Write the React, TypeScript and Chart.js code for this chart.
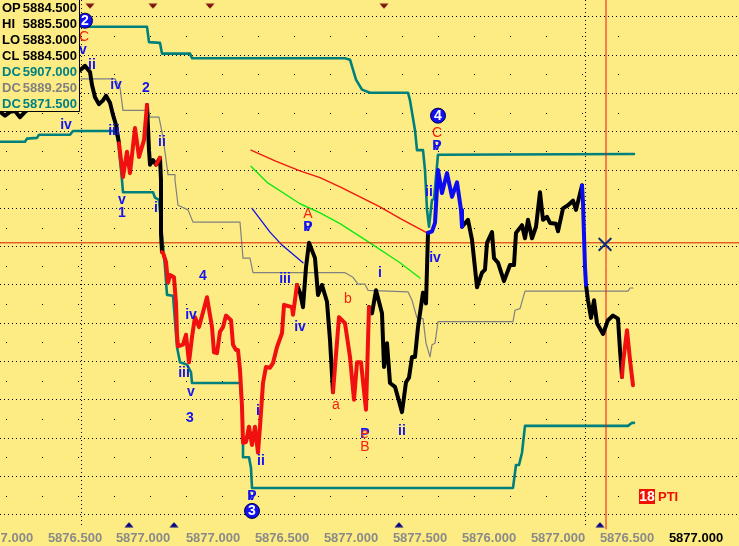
import React, { useEffect, useRef } from "react";
import { Chart, registerables } from "chart.js";

Chart.register(...registerables);

type P = [number, number];

const PRICE_MIN = 5858.14;
const PRICE_MAX = 5927.2;
const BAR_MAX = 739;

const black1: P[] = [[0,5912.6],[5,5912.1],[10,5912.6],[15,5912.7],[20,5911.9],[25,5912.6],[30,5913.1],[40,5914.1],[55,5915.5],[70,5916.1],[78,5917.8],[85,5918.6],[90,5917.8],[92,5916.1],[95,5914.5],[99,5913.6],[103,5914.1],[106,5914.7],[110,5913.8],[113,5912.2],[116,5910.9],[119,5908.5]];
const red1: P[] = [[119,5908.5],[123,5904.1],[127,5907.4],[130,5904.6],[135,5910.5],[139,5906.7],[141,5907.6],[144,5908.9],[147,5913.5]];
const black2: P[] = [[147,5913.5],[149,5907.6],[150,5905.7],[153,5906.3],[156,5905.7],[160,5906.6],[161,5903.7],[161,5896.7],[162,5894.3]];
const redMini: P[] = [[156,5905.7],[160,5906.6]];
const red2: P[] = [[162,5894.3],[163,5894.2],[166,5893.0],[168,5890.3],[170,5891.3],[174,5891.0],[176,5887.6],[177,5883.5],[178,5882.0],[183,5882.2],[186,5883.5],[189,5879.9],[192,5883.2],[195,5885.8],[199,5884.5],[207,5888.4],[212,5884.5],[214,5881.2],[217,5881.1],[220,5883.9],[223,5884.5],[226,5886.0],[231,5885.4],[233,5882.2],[236,5881.5],[238,5881.5],[240,5878.9],[242,5874.1],[243,5869.4],[246,5869.5],[249,5871.5],[252,5869.1],[255,5871.5],[258,5868.1],[260,5871.5],[263,5877.2],[266,5879.3],[270,5879.2],[273,5879.8],[277,5881.9],[282,5883.7],[284,5887.4],[292,5887.1],[293,5886.1],[297,5890.0]];
const black3: P[] = [[297,5890.0],[300,5889.0],[303,5887.1],[306,5892.3],[309,5895.5],[315,5893.5],[318,5888.7],[322,5890.0],[327,5887.8],[330,5882.8],[333,5876.0]];
const red3: P[] = [[333,5876.0],[339,5885.8],[345,5885.0],[350,5880.6],[354,5875.0],[357,5879.9],[361,5879.9],[366,5873.7],[369,5887.1]];
const black4: P[] = [[369,5887.1],[372,5886.3],[376,5889.3],[382,5886.3],[384,5879.3],[387,5882.4],[390,5877.2],[395,5876.7],[402,5873.4],[406,5877.3],[409,5877.9],[412,5880.6],[415,5880.6],[418,5884.5],[423,5889.0],[426,5887.6],[428,5896.8]];
const blue1: P[] = [[428,5896.8],[432,5897.0],[435,5898.1],[438,5905.0],[442,5902.0],[447,5904.6],[452,5901.5],[457,5903.4],[461,5899.8],[462,5897.6]];
const black5: P[] = [[462,5897.6],[468,5898.5],[472,5895.9],[477,5889.7],[482,5891.6],[485,5892.0],[487,5895.5],[492,5896.9],[494,5893.5],[498,5892.9],[504,5890.5],[510,5892.6],[514,5892.6],[516,5896.8],[522,5897.8],[525,5896.1],[528,5898.5],[532,5896.1],[536,5897.6],[540,5902.1],[543,5898.5],[547,5898.9],[550,5898.1],[556,5898.0],[558,5897.0],[563,5900.0],[568,5900.4],[573,5901.0],[576,5899.8],[582,5903.0]];
const blue2: P[] = [[582,5903.0],[583,5900.7],[584,5896.5],[585,5892.3],[586,5890.0]];
const black6: P[] = [[586,5890.0],[588,5888.0],[591,5885.7],[594,5888.0],[597,5885.0],[603,5883.6],[608,5885.4],[613,5886.0],[618,5885.6],[620,5881.5],[622,5878.0]];
const red4: P[] = [[622,5878.0],[623,5879.8],[627,5884.1],[630,5880.2],[633,5876.9]];

const channelUpper: P[] = [[81,5923.7],[147,5923.7],[149,5921.7],[160,5921.6],[162,5920.2],[190,5920.2],[192,5919.6],[345,5919.6],[350,5919.4],[356,5916.8],[362,5915.5],[370,5915.1],[408,5915.1],[410,5914.1],[415,5910.2],[417,5907.6],[423,5907.6],[425,5905.0],[427,5899.8],[429,5897.6],[432,5901.1],[434,5901.2],[438,5907.0],[634,5907.1]];
const channelLower: P[] = [[0,5908.7],[25,5908.7],[27,5909.1],[37,5909.2],[39,5909.6],[70,5909.6],[73,5910.1],[115,5910.1],[118,5908.9],[122,5903.7],[123,5902.1],[153,5902.1],[155,5901.4],[159,5901.1],[162,5896.5],[165,5892.3],[167,5888.7],[173,5888.6],[177,5881.9],[180,5879.9],[187,5879.6],[191,5878.6],[192,5877.2],[240,5877.2],[242,5874.1],[243,5869.4],[243,5867.5],[249,5867.5],[251,5866.1],[252,5863.5],[513,5863.5],[516,5866.5],[519,5866.5],[522,5868.1],[525,5871.6],[628,5871.6],[632,5872.0],[634,5872.0]];
const channelMid: P[] = [[81,5916.9],[115,5916.9],[120,5915.8],[123,5912.8],[148,5912.8],[150,5911.9],[159,5911.9],[163,5909.3],[168,5904.4],[175,5904.4],[175,5903.7],[178,5900.4],[188,5899.8],[193,5898.2],[240,5898.2],[243,5893.5],[250,5893.5],[253,5891.6],[345,5891.6],[353,5891.0],[358,5890.1],[365,5890.1],[368,5889.3],[408,5889.1],[412,5888.0],[417,5885.7],[423,5885.6],[426,5882.4],[430,5880.6],[432,5882.2],[435,5882.4],[438,5885.2],[513,5885.2],[515,5886.7],[520,5886.9],[525,5889.2],[628,5889.2],[630,5889.6],[633,5889.6]];

const thinRed: P[] = [[251,5907.6],[275,5906.2],[300,5904.9],[320,5904.0],[340,5902.8],[360,5901.5],[380,5900.2],[400,5898.7],[427,5896.8]];
const thinGreen: P[] = [[251,5905.5],[267,5903.4],[300,5900.6],[320,5899.4],[340,5898.0],[370,5895.5],[400,5892.9],[420,5890.9]];
const thinBlue: P[] = [[252,5900.0],[270,5896.9],[282,5895.2],[303,5892.9]];

const crossPrice = 5895.5;
const crossBar = 606;
const crossMark: P[] = [[605,5895.3]];
const topMarks: P[] = [[90,5926.4],[153,5926.4],[210,5926.4],[384,5926.4]];
const bottomMarks: P[] = [[129,5858.7],[174,5858.7],[399,5858.7],[600,5858.7]];

const tickBars = [6, 75, 143, 213, 282, 351, 420, 489, 558, 627, 696];
const tickLabels = ["5877.000","5876.500","5877.000","5877.000","5876.500","5877.000","5877.500","5876.000","5877.000","5876.500","5877.000"];
const gridPrices = [5860,5865,5870,5875,5880,5885,5890,5895,5900,5905,5910,5915,5920,5925];
const minorPrices = [5862.5,5867.5,5872.5,5877.5,5882.5,5887.5,5892.5,5897.5,5902.5,5907.5,5912.5,5917.5,5922.5];
const minorBars = [6,42,78,114,150,186,222,258,294,330,366,402,438,474,510,546,582,618];
const verticalBars = [81, 585];

const BLUE = "#1414f0";
const RED = "#f82010";
const blueLabels: [string, number, number][] = [["ii",92,5918.7],["iv",116,5916.1],["2",146,5915.7],["iv",66,5910.9],["iii",114,5910.1],["ii",162,5908.7],["v",122,5901.1],["1",122,5899.4],["i",156,5900.0],["4",203,5891.2],["iv",191,5886.1],["iii",184,5878.5],["v",191,5876.0],["3",190,5872.6],["i",258,5873.5],["ii",261,5867.0],["iii",285,5890.7],["iv",300,5884.5],["i",380,5891.6],["ii",402,5870.9],["ii",429,5902.1],["iv",435,5893.5],["v",83,5920.7],["P",308,5897.6],["v",308,5897.6],["P",437,5908.1],["v",437,5908.1],["P",252,5862.4],["v",252,5862.4],["P",365,5870.5]];
const redLabels: [string, number, number][] = [["C",84,5922.4],["A",308,5899.3],["b",348,5888.2],["a",336,5874.3],["B",365,5868.8],["C",437,5909.8],["e",365,5870.5]];
const badges: [string, number, number][] = [["2",85,5924.5],["3",252,5860.5],["4",438,5912.1]];

const infoNames = ["OP","HI","LO","CL","DC","DC","DC"];
const infoValues = ["5884.500","5885.500","5883.000","5884.500","5907.000","5889.250","5871.500"];
const infoColors = ["#000","#000","#000","#000","#008080","#808080","#008080"];

const BG = "#fdec84";
const TEAL = "#00807c";

function triangleImage(color: string, up: boolean) {
  const c = document.createElement("canvas");
  c.width = 10; c.height = 6;
  const g = c.getContext("2d")!;
  g.fillStyle = color;
  g.beginPath();
  if (up) { g.moveTo(5, 0.5); g.lineTo(9.5, 5.5); g.lineTo(0.5, 5.5); }
  else { g.moveTo(5, 5.5); g.lineTo(9.5, 0.5); g.lineTo(0.5, 0.5); }
  g.closePath(); g.fill();
  return c;
}

const line = (data: P[], color: string, width: number, order: number) => ({
  type: "line" as const,
  data: data.map(([x, y]) => ({ x, y })),
  borderColor: color,
  backgroundColor: color,
  borderWidth: width,
  pointRadius: 0,
  tension: 0,
  order,
  borderJoinStyle: "round" as const,
  borderCapStyle: "round" as const,
  clip: false as any,
});

const decor = {
  id: "decor",
  beforeDraw(chart: any) {
    const g = chart.ctx;
    g.save();
    g.fillStyle = BG;
    g.fillRect(0, 0, chart.width, chart.height);
    g.restore();
  },
  beforeDatasetsDraw(chart: any) {
    const g = chart.ctx;
    const { x, y } = chart.scales;
    g.save();
    g.strokeStyle = "#000";
    g.setLineDash([1, 3]);
    g.lineWidth = 1;
    for (const b of verticalBars) {
      const px = Math.round(x.getPixelForValue(b)) + 0.5;
      g.beginPath(); g.moveTo(px, 0); g.lineTo(px, 527); g.stroke();
    }
    g.setLineDash([]);
    g.fillStyle = "#000";
    for (const p of minorPrices) {
      for (const b of minorBars) {
        g.fillRect(Math.round(x.getPixelForValue(b)), Math.round(y.getPixelForValue(p)), 1, 1);
      }
    }
    g.restore();
  },
  afterDatasetsDraw(chart: any) {
    const g = chart.ctx;
    const { x, y } = chart.scales;
    g.save();
    g.textAlign = "center";
    g.textBaseline = "middle";
    g.font = "bold 14px 'Liberation Sans'";
    g.fillStyle = BLUE;
    for (const [t, b, p] of blueLabels) g.fillText(t, x.getPixelForValue(b), y.getPixelForValue(p));
    g.fillStyle = RED;
    g.font = "14px 'Liberation Sans'";
    for (const [t, b, p] of redLabels) g.fillText(t, x.getPixelForValue(b), y.getPixelForValue(p));
    for (const [t, b, p] of badges) {
      const px = x.getPixelForValue(b), py = y.getPixelForValue(p);
      g.beginPath(); g.arc(px, py, 7.5, 0, Math.PI * 2);
      g.fillStyle = "#1010f0"; g.fill();
      g.strokeStyle = "#000040"; g.lineWidth = 1; g.stroke();
      g.fillStyle = "#fff"; g.font = "bold 14px 'Liberation Sans'";
      g.fillText(t, px, py + 0.5);
    }
    // information panel
    g.fillStyle = BG;
    g.fillRect(0, 0, 80, 111);
    g.strokeStyle = "#000"; g.lineWidth = 1;
    g.beginPath(); g.moveTo(79.5, 0); g.lineTo(79.5, 111.5); g.lineTo(0, 111.5); g.stroke();
    g.font = "bold 13px 'Liberation Sans'";
    infoNames.forEach((n, i) => {
      const ry = 8 + i * 16;
      g.fillStyle = infoColors[i];
      g.textAlign = "left"; g.fillText(n, 2, ry);
      g.textAlign = "right"; g.fillText(infoValues[i], 77, ry);
    });
    // PTI flag
    g.fillStyle = "#f01000";
    g.fillRect(639, 489, 16, 15);
    g.fillStyle = "#fff"; g.textAlign = "center"; g.font = "bold 14px 'Liberation Sans'";
    g.fillText("18", 647, 497);
    g.fillStyle = "#f01000"; g.textAlign = "left"; g.font = "bold 13px 'Liberation Sans'";
    g.fillText("PTI", 658, 497);
    g.restore();
  },
};

export default function App() {
  const ref = useRef<HTMLCanvasElement>(null);
  useEffect(() => {
    const chart = new Chart(ref.current!, {
      type: "line",
      data: {
        datasets: [
          line(channelLower, TEAL, 2.6, 20),
          line(channelUpper, TEAL, 2.6, 20),
          line(channelMid, "#808080", 1.2, 21),
          line(thinRed, "#f01810", 1.4, 15),
          line(thinGreen, "#10e810", 1.4, 15),
          line(thinBlue, "#1010e8", 1.3, 15),
          line([[0, crossPrice], [BAR_MAX, crossPrice]], "#d81800", 1, 12),
          line([[crossBar, PRICE_MIN], [crossBar, PRICE_MAX]], "#f01010", 1, 12),
          ...[black1, black2, black3, black4, black5, black6].map((d) => line(d, "#000000", 4, 6)),
          ...[red1, red2, red3, red4, redMini].map((d) => line(d, "#f01010", 4, 5)),
          ...[blue1, blue2].map((d) => line(d, "#0c0cf0", 4, 5)),
          {
            type: "scatter" as const,
            data: crossMark.map(([x, y]) => ({ x, y })),
            pointStyle: "crossRot", pointRadius: 9, pointBorderWidth: 2,
            pointBorderColor: "#10307c", order: 1,
          } as any,
          {
            type: "scatter" as const,
            data: topMarks.map(([x, y]) => ({ x, y })),
            pointStyle: triangleImage("#7c1010", false), order: 1,
          } as any,
          {
            type: "scatter" as const,
            data: bottomMarks.map(([x, y]) => ({ x, y })),
            pointStyle: triangleImage("#000080", true), order: 1,
          } as any,
        ] as any,
      },
      options: {
        animation: false,
        responsive: false,
        devicePixelRatio: 1,
        parsing: { xAxisKey: "x", yAxisKey: "y" },
        layout: { padding: 0, autoPadding: false },
        plugins: { legend: { display: false }, tooltip: { enabled: false } },
        scales: {
          x: {
            type: "linear", min: 0, max: BAR_MAX, offset: false,
            grid: { display: false, drawTicks: false },
            border: { display: false },
            ticks: {
              autoSkip: false, maxRotation: 0, padding: 2,
              callback: (_v: any, i: number) => tickLabels[i],
              color: (c: any) => (c.index === tickBars.length - 1 ? "#000000" : "#8a8a8a"),
              font: { family: "'Liberation Sans'", size: 13, weight: "bold" },
            },
            afterBuildTicks: (s: any) => { s.ticks = tickBars.map((value) => ({ value })); },
            afterFit: (s: any) => { s.height = 17; s.paddingLeft = 0; s.paddingRight = 0; },
          },
          y: {
            type: "linear", min: PRICE_MIN, max: PRICE_MAX,
            grid: { color: "#000000", lineWidth: 1, drawTicks: false },
            border: { display: false, dash: [1, 3] },
            ticks: { display: false },
            afterBuildTicks: (s: any) => { s.ticks = gridPrices.map((value) => ({ value })); },
            afterFit: (s: any) => { s.width = 0; s.paddingTop = 0; s.paddingBottom = 0; },
          },
        },
      } as any,
      plugins: [decor],
    });
    return () => chart.destroy();
  }, []);
  return (
    <canvas
      ref={ref}
      width={739}
      height={546}
      style={{ position: "absolute", left: 0, top: 0, display: "block", width: 739, height: 546 }}
    />
  );
}
